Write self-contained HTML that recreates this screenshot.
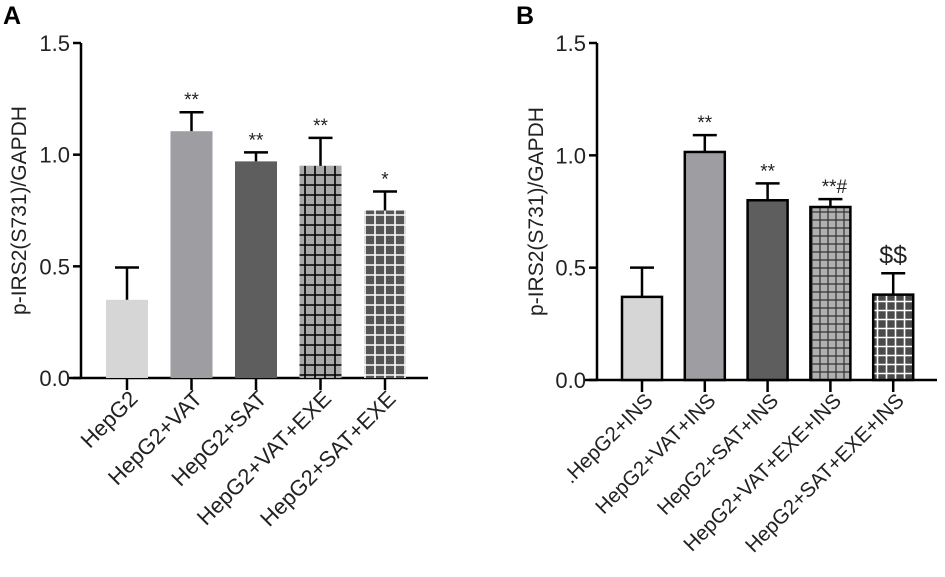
<!DOCTYPE html>
<html><head><meta charset="utf-8"><style>
html,body{margin:0;padding:0;background:#fff;}
svg{display:block;font-family:"Liberation Sans",Arial,sans-serif;}
</style></head><body>
<svg id="chart" width="945" height="577" viewBox="0 0 945 577">
<defs>
<pattern id="gridBlack" width="10" height="10" patternUnits="userSpaceOnUse">
<rect width="10" height="10" fill="#a9a9a9"/><path d="M5 0V10M0 5H10" stroke="#000" stroke-width="1.6"/></pattern>
<pattern id="gridWhite" width="10" height="10" patternUnits="userSpaceOnUse">
<rect width="10" height="10" fill="#555"/><path d="M5 0V10M0 5H10" stroke="#fff" stroke-width="1.6"/></pattern>
<pattern id="gridSmall" width="8" height="8" patternUnits="userSpaceOnUse">
<rect width="8" height="8" fill="#b0b0b0"/><path d="M4 0V8M0 4H8" stroke="#333" stroke-width="1.2"/></pattern>
<pattern id="gridWhite2" width="9" height="9" patternUnits="userSpaceOnUse">
<rect width="9" height="9" fill="#4a4a4a"/><path d="M4.5 0V9M0 4.5H9" stroke="#fff" stroke-width="1.6"/></pattern>
</defs>
<text x="3" y="24" font-size="25" font-weight="bold">A</text>
<text x="516" y="24" font-size="25" font-weight="bold">B</text>
<g id="pa"></g>
<g id="pb"></g>
</svg>
<script>
const catsA = ["HepG2","HepG2+VAT","HepG2+SAT","HepG2+VAT+EXE","HepG2+SAT+EXE"];
const valsA = [0.35,1.105,0.97,0.95,0.75];
const errA = [0.145,0.085,0.04,0.125,0.085];
const sigA = ["","**","**","**","*"];
const catsB = [".HepG2+INS","HepG2+VAT+INS","HepG2+SAT+INS","HepG2+VAT+EXE+INS","HepG2+SAT+EXE+INS"];
const valsB = [0.37,1.015,0.80,0.77,0.38];
const errB = [0.13,0.075,0.075,0.035,0.095];
const sigB = ["","**","**","**#","$$"];
const yTicks = [0.0,0.5,1.0,1.5];
const NS="http://www.w3.org/2000/svg";
function mk(parent,tag,attrs){const e=document.createElementNS(NS,tag);for(const k in attrs)e.setAttribute(k,attrs[k]);parent.appendChild(e);return e;}
function panel(g,cfg,cats,vals,errs,sigs){
  const y=v=>cfg.y0-(v/1.5)*(cfg.y0-cfg.yTop);
  const x=i=>cfg.x0+cfg.step*i;
  const ax=mk(g,"path",{d:`M${cfg.ax} ${cfg.yTop}V${cfg.y0}M${cfg.ax-12} ${cfg.y0}H${cfg.xEnd}`,stroke:"#000","stroke-width":2.5,fill:"none"});
  
  
  yTicks.forEach(t=>{
    const l=mk(g,"line",{x1:cfg.ax-8,x2:cfg.ax,y1:y(t),y2:y(t),stroke:"#000","stroke-width":2.5});
    
    
    const tx=mk(g,"text",{x:cfg.ax-11,y:y(t)+8,"font-size":22,"text-anchor":"end",fill:"#222"});
    tx.textContent=t.toFixed(1);
    
    
  });
  const yl=mk(g,"text",{x:0,y:0,"font-size":21,"text-anchor":"middle",fill:"#222",transform:`translate(${cfg.ylx},${(cfg.y0+cfg.yTop)/2}) rotate(-90)`});
  yl.textContent="p-IRS2(S731)/GAPDH";
  
  
  vals.forEach((v,i)=>{
    const cx=x(i), top=y(v), et=y(v+errs[i]);
    const el=mk(g,"path",{d:`M${cx} ${top}V${et}M${cx-12} ${et}H${cx+12}`,stroke:"#000","stroke-width":2.5,fill:"none"});
    
    
    const r=mk(g,"rect",{x:cx-cfg.bw/2,y:top,width:cfg.bw,height:cfg.y0-top,fill:cfg.fills[i],stroke:cfg.stroke,"stroke-width":cfg.sw});
    
    
    if(sigs[i]){
      const big=sigs[i]==="$$";
      const s=mk(g,"text",{x:cx+(sigs[i]==="**#"?4:0),y:et-(big?10:6),"font-size":big?25:19,"text-anchor":"middle",fill:"#222"});
      s.textContent=sigs[i];
      
      
    }
    const tk=mk(g,"line",{x1:cx,x2:cx,y1:cfg.y0,y2:cfg.y0+12,stroke:"#000","stroke-width":2.5});
    
    
    const lb=mk(g,"text",{x:0,y:0,"font-size":cfg.lf,"text-anchor":"end",fill:"#222",transform:`translate(${cx+12},${cfg.y0+22}) rotate(-45)`});
    lb.textContent=cats[i];
    
    
  });
}
panel(document.getElementById("pa"),{ax:81,yTop:43,y0:378,xEnd:428,x0:127,step:64.5,bw:42,ylx:26,lf:22,stroke:"none",sw:0,
  fills:["#d6d6d6","#9e9ea2","#5e5e5e","url(#gridBlack)","url(#gridWhite)"]},catsA,valsA,errA,sigA);
panel(document.getElementById("pb"),{ax:597,yTop:43,y0:380,xEnd:937,x0:642,step:62.8,bw:40,ylx:543,lf:20.5,stroke:"#000",sw:2.5,
  fills:["#d6d6d6","#9e9ea2","#5e5e5e","url(#gridSmall)","url(#gridWhite2)"]},catsB,valsB,errB,sigB);
</script>
</body></html>
